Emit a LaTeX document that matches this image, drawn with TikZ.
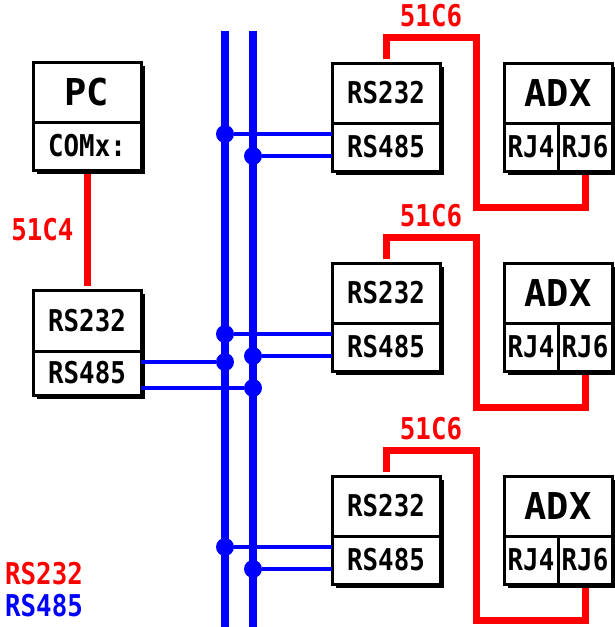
\documentclass[tikz,border=0pt]{standalone}
\usepackage{fontspec}
\usetikzlibrary{positioning,shadows}
\newfontfamily\cellfont{DejaVu Sans Mono}[FakeStretch=0.86]
\newfontfamily\headfont{DejaVu Sans Mono}
\newcommand{\lineRS}{red}
\newcommand{\lineRF}{blue}
\tikzset{
  cell/.style={draw=black, line width=1.5pt, fill=white, inner sep=0pt, outer sep=0pt,
               minimum width=54pt, minimum height=24pt,
               font=\cellfont\bfseries\fontsize{15pt}{15pt}\selectfont,
               drop shadow={shadow xshift=2.2pt, shadow yshift=-2.2pt, opacity=1, fill=black}},
  headcell/.style={cell, minimum height=30pt, font=\headfont\bfseries\fontsize{18.5pt}{18.5pt}\selectfont},
  txtcell/.style={cell, minimum height=30pt},
  jack/.style={cell, minimum width=27pt},
  lab/.style={font=\cellfont\bfseries\fontsize{15pt}{15pt}\selectfont, inner sep=0pt},
  rsred/.style={draw=\lineRS, line width=3.5pt, shorten <=2pt, shorten >=2pt},
  rsbus/.style={draw=\lineRF, line width=4pt},
  rsblue/.style={draw=\lineRF, line width=2pt},
  tap/.style={circle, fill=\lineRF, minimum size=9pt, inner sep=0pt, outer sep=0pt},
}

\begin{document}
\begin{tikzpicture}[x=0.5pt, y=-0.5pt]
  \useasboundingbox (0,0) rectangle (615,627);
  % bus
  \coordinate (b1t) at (225,31);
  \coordinate (b1b) at (225,627);
  \coordinate (b2t) at (253,31);
  \coordinate (b2b) at (253,627);
  \draw[rsbus] (b1t) -- (b1b);
  \draw[rsbus] (b2t) -- (b2b);

  % pc and converter
  \node[headcell] (p1) at (87,92) {PC};
  \node[cell, below=0pt of p1] (p2) {COMx:};
  \node[txtcell, minimum height=30.5pt] (l1) at (87,320.5) {RS232};
  \node[cell, minimum height=22pt, below=0pt of l1] (l2) {RS485};
  \draw[rsred] (p2.south) -- node[lab, text=\lineRS, left=5pt]{51C4} (l1.north);
  \node[tap] (dla) at (225,362) {};
  \node[tap] (dlb) at (253,388) {};
  \draw[rsblue] (l2.east |- dla) -- (dla);
  \draw[rsblue] (l2.east |- dlb) -- (dlb);

  % modules
  \foreach \m/\y in {1/63, 2/263, 3/476} {
    \node[txtcell] (m\m a) at (386,\y+30) {RS232};
    \node[cell, below=0pt of m\m a] (m\m b) {RS485};
    \node[headcell] (m\m x) at (558,\y+30) {ADX};
    \node[jack, anchor=north west] (m\m l) at (m\m x.south west) {RJ4};
    \node[jack, anchor=north east] (m\m r) at (m\m x.south east) {RJ6};
    \draw[rsred] (m\m a.north) -- ++(0,-26)
      -- node[lab, text=\lineRS, above=3.5pt]{51C6} ++(90,0)
      -- ++(0,170) -| (m\m r.south);
    \node[tap] (d\m a) at (225,\y+71) {};
    \node[tap] (d\m b) at (253,\y+93) {};
    \draw[rsblue] (d\m a) -- (d\m a -| m\m b.west);
    \draw[rsblue] (d\m b) -- (d\m b -| m\m b.west);
  }

  % legend
  \node[lab, text=\lineRS] (kA) at (44,574) {RS232};
  \node[lab, text=\lineRF] (kB) at (44,606) {RS485};
\end{tikzpicture}
\end{document}
